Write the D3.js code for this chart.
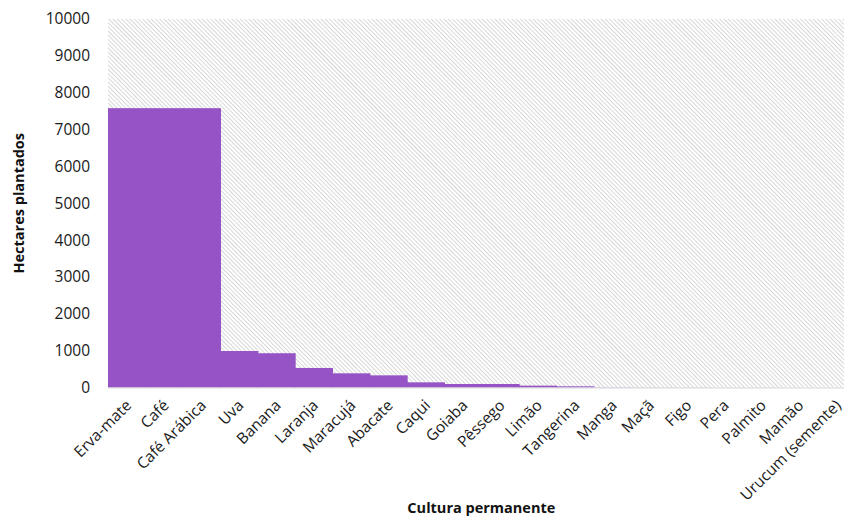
<!DOCTYPE html>
<html><head><meta charset="utf-8">
<script src="https://cdn.jsdelivr.net/npm/d3@7"></script>
<style>body{margin:0;background:#fff;} svg{display:block;font-family:"Open Sans",sans-serif;}</style>
</head><body>
<svg id="chart" width="844" height="520"></svg>
<script>
const categories = ["Erva-mate","Café","Café Arábica","Uva","Banana","Laranja","Maracujá","Abacate","Caqui","Goiaba","Pêssego","Limão","Tangerina","Manga","Maçã","Figo","Pera","Palmito","Mamão","Urucum (semente)"];
const hectares = [7580,7580,7580,990,930,530,385,330,140,95,95,50,32,6,4,3,2,2,1,1];
const yTicks = [0,1000,2000,3000,4000,5000,6000,7000,8000,9000,10000];
const yTitle = "Hectares plantados";
const xTitle = "Cultura permanente";

const svg = d3.select("#chart");
const pLeft = 108, pRight = 854.7, pTop = 19, pBottom = 387.5;
const x = d3.scaleBand().domain(categories).range([pLeft, pRight]).padding(0);
const y = d3.scaleLinear().domain([0, 10000]).range([pBottom, pTop]);

const defs = svg.append("defs");
const pat = defs.append("pattern").attr("id","hatch").attr("patternUnits","userSpaceOnUse")
  .attr("width",3).attr("height",3).attr("patternTransform","rotate(-45)");
pat.append("rect").attr("width",3).attr("height",3).attr("fill","#fff");
pat.append("line").attr("x1",0.5).attr("y1",0).attr("x2",0.5).attr("y2",3)
  .attr("stroke","#d7d7d7").attr("stroke-width",1);

svg.append("rect").attr("x",pLeft).attr("y",pTop).attr("width",pRight-pLeft).attr("height",pBottom-pTop)
  .attr("fill","url(#hatch)");

svg.append("g").selectAll("rect").data(categories).join("rect")
  .attr("x", d => x(d)).attr("width", x.bandwidth() + 1)
  .attr("y", (d,i) => y(hectares[i])).attr("height", (d,i) => pBottom - y(hectares[i]))
  .attr("fill","#9553c6");

svg.append("line").attr("x1",pLeft).attr("x2",pRight).attr("y1",pBottom+0.5).attr("y2",pBottom+0.5)
  .attr("stroke","#d9d9d9").attr("stroke-width",1.2);

const yAxis = svg.append("g").attr("transform",`translate(${pLeft},0)`)
  .call(d3.axisLeft(y).tickValues(yTicks).tickFormat(d3.format("d")).tickSize(0).tickPadding(18));
yAxis.select(".domain").remove();
yAxis.selectAll("text").attr("font-size",15.5).attr("font-family","Open Sans").attr("fill","#1a1a1a");

const xAxis = svg.append("g").attr("transform",`translate(0,${pBottom})`)
  .call(d3.axisBottom(x).tickSize(0).tickFormat(d => d));
xAxis.select(".domain").remove();
xAxis.selectAll("text")
  .attr("font-size",15.5).attr("font-family","Open Sans").attr("fill","#1a1a1a")
  .attr("text-anchor","end")
  .attr("dy", "0.35em").attr("y", 0)
  .attr("transform","translate(2,15) rotate(-45)");

svg.append("text").attr("transform",`translate(24,${(pTop+pBottom)/2}) rotate(-90)`)
  .attr("text-anchor","middle").attr("font-size",14.5).attr("font-weight","bold").attr("fill","#111")
  .text(yTitle);
svg.append("text").attr("x",(pLeft+pRight)/2).attr("y",513)
  .attr("text-anchor","middle").attr("font-size",14.5).attr("font-weight","bold").attr("fill","#111")
  .text(xTitle);
</script>
</body></html>
